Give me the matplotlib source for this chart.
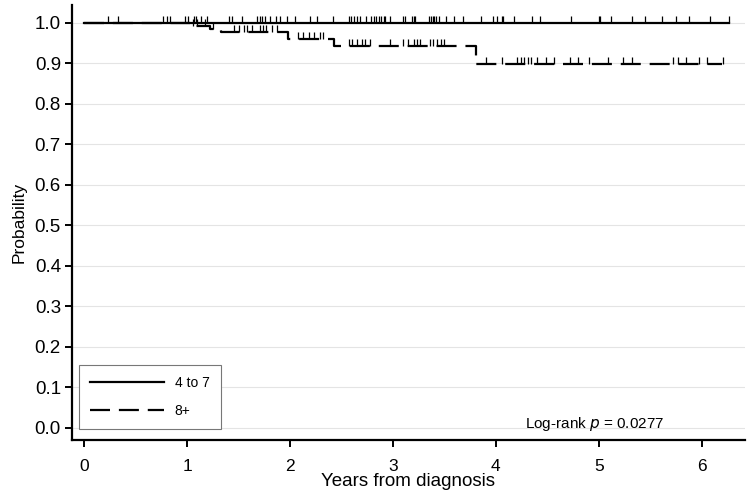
import matplotlib.pyplot as plt

plt.rcParams['font.family'] = ['Liberation Sans', 'DejaVu Sans']

# group "4 to 7": no events, only censored times (years)
cens_a = [0.23, 0.33, 0.76, 0.80, 0.83, 0.98, 1.01, 1.07, 1.09, 1.13, 1.19,
          1.41, 1.44, 1.53, 1.68, 1.71, 1.73, 1.76, 1.80, 1.86, 1.90, 1.97,
          2.05, 2.19, 2.26, 2.42, 2.57, 2.59, 2.62, 2.65, 2.68, 2.74, 2.79,
          2.82, 2.84, 2.86, 2.88, 2.91, 2.92, 2.97, 3.10, 3.12, 3.19, 3.20,
          3.21, 3.35, 3.37, 3.39, 3.40, 3.42, 3.45, 3.52, 3.59, 3.68, 3.86,
          3.97, 4.01, 4.06, 4.07, 4.18, 4.35, 4.43, 4.73, 5.00, 5.01, 5.12,
          5.32, 5.45, 5.62, 5.75, 5.88, 6.08]
end_a = 6.27

# group "8+": step curve
step_t = [0.0, 1.03, 1.22, 1.33, 1.98, 2.43, 3.81]
step_s = [1.0, 0.992, 0.985, 0.977, 0.960, 0.943, 0.898]
end_b = 6.20
cens_b = [1.06, 1.10, 1.17, 1.25, 1.45, 1.50, 1.55, 1.58, 1.63, 1.71, 1.74,
          1.77, 1.82, 1.87, 2.08, 2.13, 2.18, 2.23, 2.29, 2.32, 2.57, 2.60,
          2.65, 2.70, 2.73, 2.78, 2.97, 3.10, 3.15, 3.20, 3.23, 3.26, 3.36,
          3.39, 3.43, 3.47, 3.50, 3.90, 4.06, 4.21, 4.24, 4.27, 4.31, 4.34,
          4.40, 4.49, 4.57, 4.72, 4.80, 4.91, 5.09, 5.24, 5.32, 5.72, 5.77,
          5.85, 5.98, 6.05, 6.21]

fig = plt.figure(figsize=(7.5, 4.98), dpi=100)
ax = fig.add_axes([0.096, 0.1165, 0.897, 0.8735])

def surv_at(t):
    s = step_s[0]
    for tt, ss in zip(step_t, step_s):
        if t >= tt:
            s = ss
    return s

tick_h = 0.018

# 4 to 7
ax.plot([0, end_a], [1.0, 1.0], color='black', lw=1.6, label='4 to 7')
ax.vlines(cens_a + [end_a], 1.0, 1.0 + tick_h, color='black', lw=0.9)

# 8+
ax.step(step_t + [end_b], step_s + [step_s[-1]], where='post', color='black',
        lw=1.6, dashes=(9, 4), label='8+')
ys = [surv_at(t) for t in cens_b]
ax.vlines(cens_b, ys, [y + tick_h for y in ys], color='black', lw=0.9)

ax.set_xlim(-0.12, 6.42)
ax.set_ylim(-0.03, 1.044)
ax.set_xticks(range(7))
ax.set_yticks([i / 10 for i in range(11)])
ax.set_yticklabels([f'{i / 10:.1f}' for i in range(11)])
ax.grid(axis='y', color='#e4e4e4', lw=0.8)
ax.set_axisbelow(True)
for s in ['top', 'right']:
    ax.spines[s].set_visible(False)
for s in ['left', 'bottom']:
    ax.spines[s].set_linewidth(1.6)
ax.tick_params(width=1.4, length=5)
ax.tick_params(axis='x', labelsize=12.5, pad=9)
ax.tick_params(axis='y', labelsize=13.5, pad=3)
ax.set_xlabel('Years from diagnosis', fontsize=13.5, labelpad=-1)
ax.set_ylabel('Probability', fontsize=12.5, labelpad=6)

leg = ax.legend(loc='lower left', bbox_to_anchor=(0.0, 0.01), fontsize=10,
                handlelength=5.3, handletextpad=0.8, fancybox=False,
                edgecolor='#777777', framealpha=1, borderpad=0.8,
                labelspacing=1.0)
leg.get_frame().set_linewidth(0.8)

ax.text(5.64, 0.0, 'Log-rank $p$ = 0.0277', fontsize=11,
        ha='right', va='baseline')

fig.savefig('out.png', dpi=100)
